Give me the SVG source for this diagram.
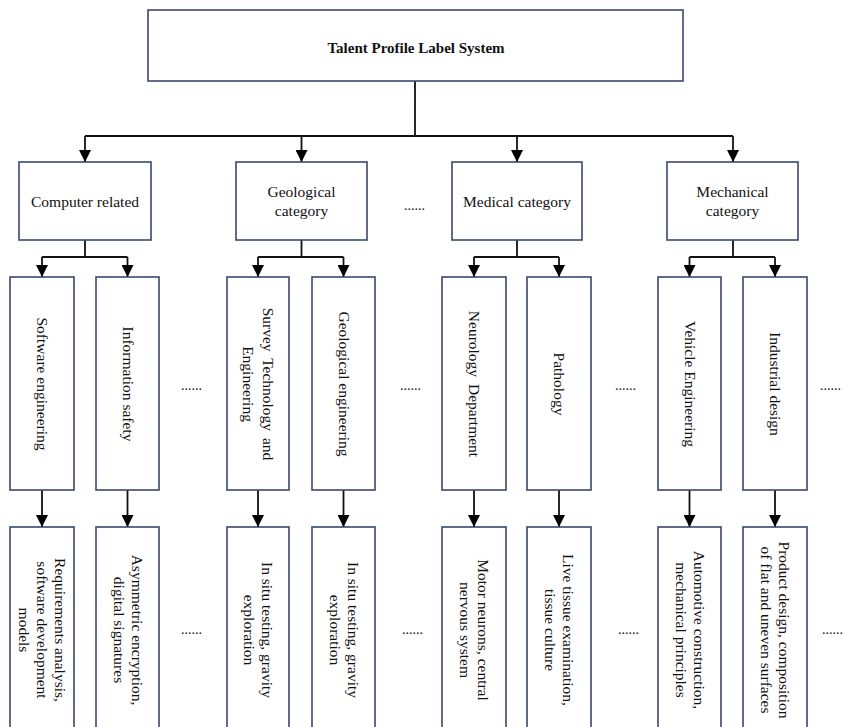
<svg xmlns="http://www.w3.org/2000/svg" width="843" height="727" viewBox="0 0 843 727">
  <defs>
    <marker id="arrow" viewBox="0 0 12 12" refX="12" refY="6" markerWidth="12" markerHeight="12" markerUnits="userSpaceOnUse" orient="auto">
      <path d="M0,0 L12,6 L0,12 Z" fill="#000"/>
    </marker>
    <style>
      .box { fill: #fff; stroke: #3a4670; stroke-width: 1.6; }
      .line { fill: none; stroke: #111; stroke-width: 1.8; }
      .arrowed { marker-end: url(#arrow); }
      text { font-family: "Liberation Serif", "Times New Roman", serif; font-size: 15.5px; fill: #111; }
      .title { font-weight: bold; font-size: 15px; }
      .mid { text-anchor: middle; }
      .dots { font-size: 14px; }
    </style>
  </defs>

  <rect width="843" height="727" fill="#fff"/>

  <!-- connectors -->
  <g id="connectors">
    <!-- root to categories -->
    <path class="line" d="M415,81 V136 M85,136 H733"/>
    <path class="line arrowed" d="M85,136 V162"/>
    <path class="line arrowed" d="M301.5,136 V162"/>
    <path class="line arrowed" d="M517,136 V162"/>
    <path class="line arrowed" d="M733,136 V162"/>

    <!-- categories to subjects -->
    <path class="line" d="M85,240 V257 M42,257 H127.5"/>
    <path class="line arrowed" d="M42,257 V277"/>
    <path class="line arrowed" d="M127.5,257 V277"/>

    <path class="line" d="M301.5,240 V257 M258,257 H343.5"/>
    <path class="line arrowed" d="M258,257 V277"/>
    <path class="line arrowed" d="M343.5,257 V277"/>

    <path class="line" d="M517,240 V257 M474,257 H559"/>
    <path class="line arrowed" d="M474,257 V277"/>
    <path class="line arrowed" d="M559,257 V277"/>

    <path class="line" d="M733,240 V257 M689.5,257 H775"/>
    <path class="line arrowed" d="M689.5,257 V277"/>
    <path class="line arrowed" d="M775,257 V277"/>

    <!-- subjects to skills -->
    <path class="line arrowed" d="M42,490 V527"/>
    <path class="line arrowed" d="M127.5,490 V527"/>
    <path class="line arrowed" d="M258,490 V527"/>
    <path class="line arrowed" d="M343.5,490 V527"/>
    <path class="line arrowed" d="M474,490 V527"/>
    <path class="line arrowed" d="M559,490 V527"/>
    <path class="line arrowed" d="M689.5,490 V527"/>
    <path class="line arrowed" d="M775,490 V527"/>
  </g>

  <!-- root -->
  <g id="root">
    <rect class="box" x="148" y="10" width="535" height="71"/>
    <text class="title mid" x="416" y="53">Talent Profile Label System</text>
  </g>

  <!-- categories -->
  <g id="cat-computer">
    <rect class="box" x="19" y="162" width="132" height="78"/>
    <text class="mid" x="85" y="207">Computer related</text>
  </g>
  <g id="cat-geological">
    <rect class="box" x="236" y="162" width="131" height="78"/>
    <text class="mid" x="301.5" y="197">Geological</text>
    <text class="mid" x="301.5" y="216">category</text>
  </g>
  <g id="cat-medical">
    <rect class="box" x="452" y="162" width="130" height="78"/>
    <text class="mid" x="517" y="207">Medical category</text>
  </g>
  <g id="cat-mechanical">
    <rect class="box" x="667" y="162" width="131" height="78"/>
    <text class="mid" x="732.5" y="197">Mechanical</text>
    <text class="mid" x="732.5" y="216">category</text>
  </g>
  <g id="dots-cat">
    <text class="dots" x="404" y="210">......</text>
  </g>

  <!-- subjects (vertical text) -->
  <g id="sub-software">
    <rect class="box" x="10" y="277" width="64" height="213"/>
    <text class="mid" transform="translate(42,384) rotate(90)" y="5">Software engineering</text>
  </g>
  <g id="sub-infosec">
    <rect class="box" x="96" y="277" width="63" height="213"/>
    <text class="mid" transform="translate(127.5,384) rotate(90)" y="5">Information safety</text>
  </g>
  <g id="sub-survey">
    <rect class="box" x="227" y="277" width="62" height="213"/>
    <text class="mid" transform="translate(258,384) rotate(90)" y="-5" word-spacing="3">Survey Technology and</text>
    <text class="mid" transform="translate(258,384) rotate(90)" y="15">Engineering</text>
  </g>
  <g id="sub-geoeng">
    <rect class="box" x="312" y="277" width="63" height="213"/>
    <text class="mid" transform="translate(343.5,384) rotate(90)" y="5">Geological engineering</text>
  </g>
  <g id="sub-neuro">
    <rect class="box" x="442" y="277" width="64" height="213"/>
    <text class="mid" transform="translate(474,384) rotate(90)" y="5" word-spacing="3">Neurology Department</text>
  </g>
  <g id="sub-pathology">
    <rect class="box" x="527" y="277" width="64" height="213"/>
    <text class="mid" transform="translate(559,384) rotate(90)" y="5">Pathology</text>
  </g>
  <g id="sub-vehicle">
    <rect class="box" x="658" y="277" width="63" height="213"/>
    <text class="mid" transform="translate(689.5,384) rotate(90)" y="5">Vehicle Engineering</text>
  </g>
  <g id="sub-industrial">
    <rect class="box" x="743" y="277" width="64" height="213"/>
    <text class="mid" transform="translate(775,384) rotate(90)" y="5">Industrial design</text>
  </g>
  <g id="dots-sub">
    <text class="dots" x="181" y="390">......</text>
    <text class="dots" x="400" y="390">......</text>
    <text class="dots" x="615" y="390">......</text>
    <text class="dots" x="820" y="390">......</text>
  </g>

  <!-- skills (vertical text, boxes run past the lower edge) -->
  <g id="skill-software">
    <rect class="box" x="10" y="527" width="64" height="220"/>
    <text class="mid" transform="translate(42,630) rotate(90)" y="-13">Requirements analysis,</text>
    <text class="mid" transform="translate(42,630) rotate(90)" y="5">software development</text>
    <text class="mid" transform="translate(42,630) rotate(90)" y="23">models</text>
  </g>
  <g id="skill-infosec">
    <rect class="box" x="96" y="527" width="63" height="220"/>
    <text class="mid" transform="translate(127.5,630) rotate(90)" y="-4">Asymmetric encryption,</text>
    <text class="mid" transform="translate(127.5,630) rotate(90)" y="14">digital signatures</text>
  </g>
  <g id="skill-survey">
    <rect class="box" x="227" y="527" width="62" height="220"/>
    <text class="mid" transform="translate(258,630) rotate(90)" y="-4">In situ testing, gravity</text>
    <text class="mid" transform="translate(258,630) rotate(90)" y="14">exploration</text>
  </g>
  <g id="skill-geoeng">
    <rect class="box" x="312" y="527" width="63" height="220"/>
    <text class="mid" transform="translate(343.5,630) rotate(90)" y="-4">In situ testing, gravity</text>
    <text class="mid" transform="translate(343.5,630) rotate(90)" y="14">exploration</text>
  </g>
  <g id="skill-neuro">
    <rect class="box" x="442" y="527" width="64" height="220"/>
    <text class="mid" transform="translate(474,630) rotate(90)" y="-4">Motor neurons, central</text>
    <text class="mid" transform="translate(474,630) rotate(90)" y="14">nervous system</text>
  </g>
  <g id="skill-pathology">
    <rect class="box" x="527" y="527" width="64" height="220"/>
    <text class="mid" transform="translate(559,630) rotate(90)" y="-4">Live tissue examination,</text>
    <text class="mid" transform="translate(559,630) rotate(90)" y="14">tissue culture</text>
  </g>
  <g id="skill-vehicle">
    <rect class="box" x="658" y="527" width="63" height="220"/>
    <text class="mid" transform="translate(689.5,630) rotate(90)" y="-4">Automotive construction,</text>
    <text class="mid" transform="translate(689.5,630) rotate(90)" y="14">mechanical principles</text>
  </g>
  <g id="skill-industrial">
    <rect class="box" x="743" y="527" width="64" height="220"/>
    <text class="mid" transform="translate(775,630) rotate(90)" y="-4">Product design, composition</text>
    <text class="mid" transform="translate(775,630) rotate(90)" y="14">of flat and uneven surfaces</text>
  </g>
  <g id="dots-skill">
    <text class="dots" x="181" y="634">......</text>
    <text class="dots" x="402" y="634">......</text>
    <text class="dots" x="618" y="634">......</text>
    <text class="dots" x="822" y="634">......</text>
  </g>
</svg>
